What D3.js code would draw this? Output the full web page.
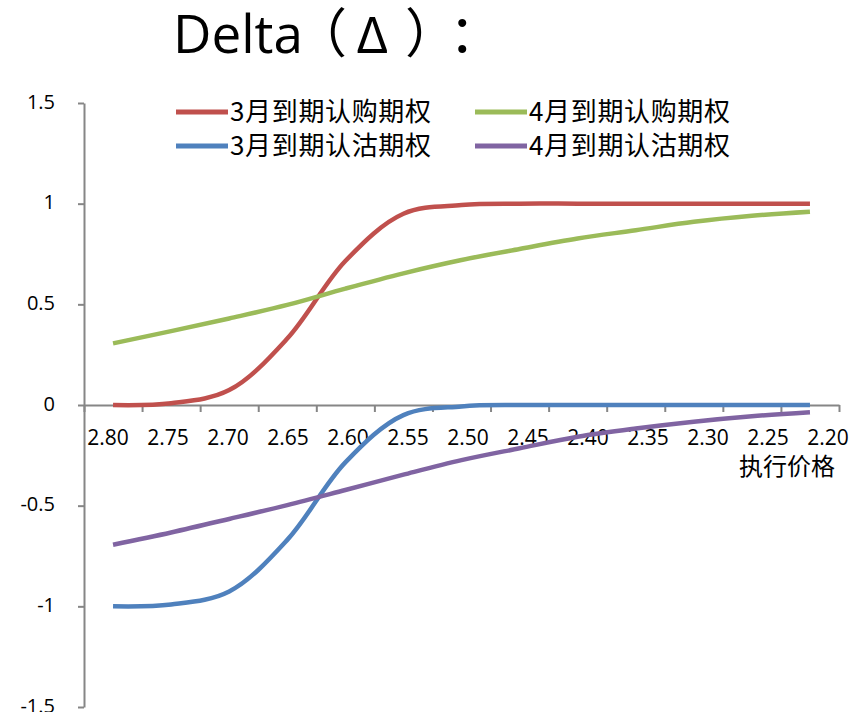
<!DOCTYPE html>
<html>
<head>
<meta charset="utf-8">
<script src="https://cdn.jsdelivr.net/npm/d3@7"></script>
<style>
  html, body { margin: 0; padding: 0; background: #fff; }
  svg { display: block; }
</style>
</head>
<body>
<svg id="chart" width="854" height="712"></svg>
<script>
// Strike prices (category axis, high to low)
const categories = ["2.80", "2.75", "2.70", "2.65", "2.60", "2.55", "2.50",
                    "2.45", "2.40", "2.35", "2.30", "2.25", "2.20"];

// Delta of each option series at each strike
const call3 = [0.000, 0.009, 0.074, 0.330, 0.715, 0.950, 0.993, 1.000, 1.000, 1.000, 1.000, 1.000, 1.000];
const call4 = [0.306, 0.367, 0.430, 0.497, 0.578, 0.654, 0.720, 0.775, 0.827, 0.868, 0.910, 0.940, 0.960];
const put3  = [-1.000, -0.991, -0.926, -0.670, -0.285, -0.050, -0.007, 0.000, 0.000, 0.000, 0.000, 0.000, 0.000];
const put4  = [-0.694, -0.633, -0.566, -0.497, -0.422, -0.346, -0.274, -0.215, -0.158, -0.117, -0.083, -0.056, -0.036];

const seriesNames = ["3月到期认购期权", "4月到期认购期权", "3月到期认沽期权", "4月到期认沽期权"];
const seriesColors = ["#C0504D", "#9BBB59", "#4F81BD", "#8064A2"];

const yTicks = [-1.5, -1, -0.5, 0, 0.5, 1, 1.5];

const series = [call3, call4, put3, put4].map((vals, i) => ({
  name: seriesNames[i], color: seriesColors[i], values: vals
}));

const svg = d3.select("#chart");
const axisColor = "#868686";
const numFont = "'Open Sans', 'Noto Sans', sans-serif";
const cjkFont = "'Noto Sans CJK SC', sans-serif";

// Plot frame
const plotLeft = 84, plotRight = 839, plotTop = 103, plotBottom = 707;

const y = d3.scaleLinear().domain([-1.5, 1.5]).range([plotBottom, plotTop]);

// Category band edges and centres
const band = d3.scaleBand().domain(categories).range([plotLeft, plotRight]).paddingInner(0).paddingOuter(0);
const xc = d => band(d) + band.bandwidth() / 2;
const edge = d3.scaleLinear().domain([0, categories.length]).range([plotLeft, plotRight]);
// Tick labels are laid out on their own slightly wider spacing
const labelX = d3.scalePoint().domain(categories).range([107.5, 827.5]);

// Title: one text, each piece placed by the left edge of its ink
const ctx = document.createElement("canvas").getContext("2d");
const titleParts = [
  { text: "Delta", left: 178, size: 53, family: "'Open Sans'" },
  { text: "（",    left: 330, size: 53, family: "'Noto Sans CJK SC'" },
  { text: "Δ",     left: 357, size: 53, family: "'Noto Sans CJK SC'", inkWidth: 30 },
  { text: "）",    left: 407, size: 53, family: "'Noto Sans CJK SC'" },
  { text: "：",    left: 458, size: 53, family: "'Noto Sans CJK SC'" }
];
const title = svg.append("text").attr("y", 53).attr("fill", "#000");
titleParts.forEach(p => {
  let size = p.size;
  ctx.font = `${size}px ${p.family}`;
  let m = ctx.measureText(p.text);
  if (p.inkWidth) {
    const w = m.actualBoundingBoxLeft + m.actualBoundingBoxRight;
    if (w > 0) {
      size = size * p.inkWidth / w;
      ctx.font = `${size}px ${p.family}`;
      m = ctx.measureText(p.text);
    }
  }
  title.append("tspan")
    .attr("x", p.left + m.actualBoundingBoxLeft)
    .attr("font-family", p.family)
    .attr("font-size", size)
    .text(p.text);
});

// Y axis
const yAxis = d3.axisLeft(y).tickValues(yTicks).tickSize(6).tickSizeOuter(0)
  .tickFormat(d => d === 0 ? "0" : String(d));
const gy = svg.append("g").attr("transform", `translate(${plotLeft},0)`).call(yAxis);
gy.select(".domain").attr("stroke", axisColor).attr("stroke-width", 2);
gy.selectAll(".tick line").attr("stroke", axisColor).attr("stroke-width", 2);
gy.selectAll(".tick text")
  .attr("x", -29).attr("dy", "0.25em")
  .attr("font-family", numFont).attr("font-size", 20).attr("fill", "#000");

// X axis at zero: ticks on the category edges
const xAxis = d3.axisBottom(edge).tickValues(d3.range(0, categories.length + 1))
  .tickSize(7).tickSizeOuter(0).tickFormat("");
const gx = svg.append("g").attr("transform", `translate(0,${y(0)})`).call(xAxis);
gx.select(".domain").attr("stroke", axisColor).attr("stroke-width", 2);
gx.selectAll(".tick line").attr("stroke", axisColor).attr("stroke-width", 2);

// X tick labels
const xLabels = d3.axisBottom(labelX).tickSize(0).tickPadding(0);
const gxl = svg.append("g").attr("transform", `translate(0,${y(0)})`).call(xLabels);
gxl.select(".domain").remove();
gxl.selectAll(".tick text")
  .attr("dy", null).attr("y", 40)
  .attr("font-family", numFont).attr("font-size", 21).attr("fill", "#000");

// X axis title
svg.append("text")
  .attr("x", 835).attr("y", 475)
  .attr("text-anchor", "end")
  .attr("font-family", cjkFont).attr("font-size", 24).attr("fill", "#000")
  .text("执行价格");

// Series lines
const line = d3.line()
  .x((d, i) => xc(categories[i]))
  .y(d => y(d))
  .curve(d3.curveCatmullRom.alpha(0.5));

svg.append("g").selectAll("path")
  .data(series)
  .join("path")
  .attr("d", d => line(d.values))
  .attr("fill", "none")
  .attr("stroke", d => d.color)
  .attr("stroke-width", 4.5)
  .attr("stroke-linejoin", "round");

// Legend (2 x 2)
const legendCols = [176, 475];
const legendRows = [112, 146];
const legend = svg.append("g");
series.forEach((s, i) => {
  const lx = legendCols[i % 2], ly = legendRows[Math.floor(i / 2)];
  legend.append("line")
    .attr("x1", lx).attr("x2", lx + 52)
    .attr("y1", ly).attr("y2", ly)
    .attr("stroke", s.color).attr("stroke-width", 5);
  legend.append("text")
    .attr("x", lx + 54).attr("y", ly + 9)
    .attr("font-family", cjkFont).attr("font-size", 26).attr("fill", "#000")
    .attr("textLength", 201).attr("lengthAdjust", "spacing")
    .text(s.name);
});
</script>
</body>
</html>
